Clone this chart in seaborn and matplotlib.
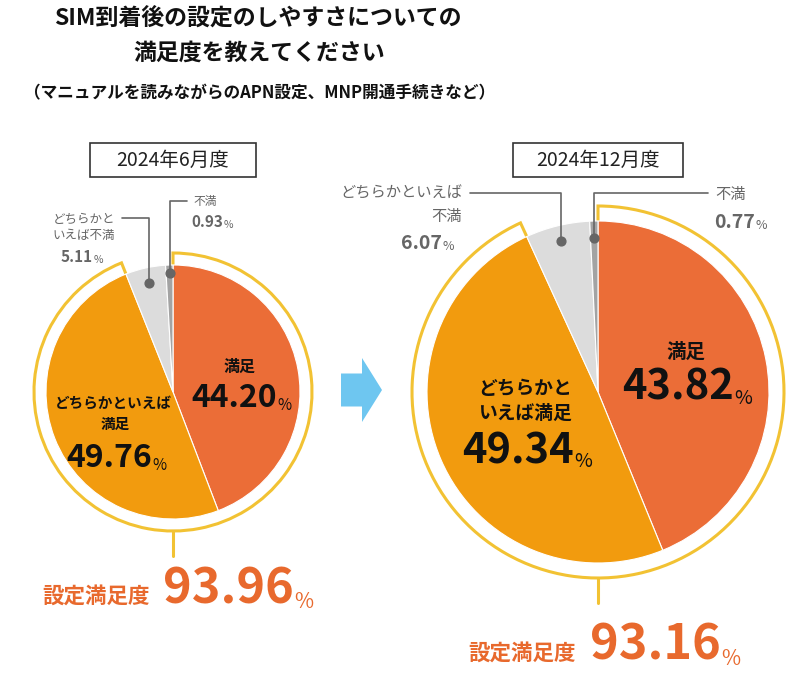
import seaborn as sns
import matplotlib.pyplot as plt
import numpy as np
from matplotlib.patches import Wedge, Rectangle, FancyArrow

# データ
categories = ["満足", "どちらかといえば満足", "どちらかといえば不満", "不満"]
periods = ["2024年6月度", "2024年12月度"]
june_values = [44.20, 49.76, 5.11, 0.93]
dec_values = [43.82, 49.34, 6.07, 0.77]
satisfaction_totals = [93.96, 93.16]

W, H = 800, 681

sns.set_theme(style="white")
plt.rcParams['font.family'] = ['Noto Sans CJK JP', 'DejaVu Sans']

palette = sns.color_palette(["#EB6D37", "#F29B0E", "#DCDCDC", "#A3A3A3"])
YELLOW = "#F2C233"
ORANGE_TXT = "#E8692D"
GRAY_TXT = "#666666"
BLACK = "#111111"

fig = plt.figure(figsize=(8, 6.81), dpi=100)
ax = fig.add_axes([0, 0, 1, 1])


def Y(y):
    # 画像座標 (上から) -> データ座標
    return H - y


def number_pct(x, y, value, size, pct_size, color, ha='left'):
    t = ax.text(x, Y(y), f"{value:.2f}", fontsize=size, fontweight='bold',
                color=color, ha=ha, va='baseline')
    ax.annotate('%', xy=(1, 0), xycoords=t, xytext=(0.3, 0), textcoords='offset points',
                fontsize=pct_size, color=color, ha='left', va='bottom')
    return t


def draw_pie(values, cx, cy, r, gap, dot_factors):
    ax.pie(values, colors=palette, startangle=90, counterclock=False,
           center=(cx, Y(cy)), radius=r,
           wedgeprops=dict(edgecolor='white', linewidth=0.8, zorder=2))
    sat = values[0] + values[1]
    ring = Wedge((cx, Y(cy)), r + gap, 90 - sat * 3.6, 90, fill=False,
                 edgecolor=YELLOW, linewidth=2.2, zorder=1)
    ax.add_patch(ring)
    # 下に伸びる線
    ax.plot([cx, cx], [Y(cy) - r - gap, Y(cy) - r - gap - 25], color=YELLOW, lw=2.2, zorder=1)

    # 不満側のスライスに点
    cum = np.cumsum([0] + list(values))
    pts = []
    for i, f in zip([2, 3], dot_factors):
        mid = 90 - (cum[i] + values[i] / 2) * 3.6
        px = cx + r * f * np.cos(np.radians(mid))
        py = Y(cy) + r * f * np.sin(np.radians(mid))
        ax.scatter([px], [py], s=40, color=GRAY_TXT, zorder=5)
        pts.append((px, py))
    return pts


# タイトル
ax.text(258, Y(18), "SIM到着後の設定のしやすさについての", fontsize=16.5, fontweight='bold',
        color=BLACK, ha='center', va='center')
ax.text(259, Y(53), "満足度を教えてください", fontsize=16.5, fontweight='bold',
        color=BLACK, ha='center', va='center')
ax.text(260, Y(93), "（マニュアルを読みながらのAPN設定、MNP開通手続きなど）", fontsize=12,
        fontweight='bold', color=BLACK, ha='center', va='center')

# 期間ボックス
for (x0, x1), label in zip([(90, 256), (513, 683)], periods):
    ax.add_patch(Rectangle((x0, Y(177)), x1 - x0, 34, fill=False, edgecolor='#333333', lw=1.2))
    ax.text((x0 + x1) / 2, Y(160), label, fontsize=14, color='#222222', ha='center', va='center')

# 左の円グラフ
(lx1, ly1), (lx2, ly2) = draw_pie(june_values, 173, 392, 127, 12, [0.88, 0.94])
ax.plot([lx1, lx1, 122], [ly1, Y(218), Y(218)], color=GRAY_TXT, lw=1.2, zorder=4)
ax.plot([lx2, lx2, 187], [ly2, Y(201), Y(201)], color=GRAY_TXT, lw=1.2, zorder=4)

ax.text(84, Y(219), "どちらかと", fontsize=9, color=GRAY_TXT, ha='center', va='center')
ax.text(84, Y(236), "いえば不満", fontsize=9, color=GRAY_TXT, ha='center', va='center')
number_pct(61, 262, june_values[2], 11, 7.5, GRAY_TXT)
ax.text(193, Y(202), "不満", fontsize=8.5, color=GRAY_TXT, ha='left', va='center')
number_pct(191, 227, june_values[3], 11, 7.5, GRAY_TXT)

ax.text(240, Y(367), "満足", fontsize=11.5, fontweight='bold', color=BLACK, ha='center', va='center')
number_pct(191, 407, june_values[0], 23, 11, BLACK)
ax.text(113, Y(403), "どちらかといえば", fontsize=10.5, fontweight='bold', color=BLACK,
        ha='center', va='center')
ax.text(115, Y(424), "満足", fontsize=10.5, fontweight='bold', color=BLACK, ha='center', va='center')
number_pct(66, 467, june_values[1], 23, 11, BLACK)

ax.text(150, Y(603), "設定満足度", fontsize=15.5, fontweight='bold', color=ORANGE_TXT,
        ha='right', va='baseline')
number_pct(163, 603, satisfaction_totals[0], 35, 15, ORANGE_TXT)

# 矢印
ax.add_patch(FancyArrow(341, Y(390), 41, 0, width=33, head_width=64, head_length=20,
                        length_includes_head=True, color='#6EC6F0', lw=0))

# 右の円グラフ
(rx1, ry1), (rx2, ry2) = draw_pie(dec_values, 598, 392, 171, 15, [0.91, 0.9])
ax.plot([rx1, rx1, 470], [ry1, Y(193), Y(193)], color=GRAY_TXT, lw=1.2, zorder=4)
ax.plot([rx2, rx2, 708], [ry2, Y(193), Y(193)], color=GRAY_TXT, lw=1.2, zorder=4)

ax.text(462, Y(193), "どちらかといえば", fontsize=11, color=GRAY_TXT, ha='right', va='center')
ax.text(462, Y(217), "不満", fontsize=11, color=GRAY_TXT, ha='right', va='center')
number_pct(401, 249, dec_values[2], 14, 9, GRAY_TXT)
ax.text(715, Y(195), "不満", fontsize=11, color=GRAY_TXT, ha='left', va='center')
number_pct(714, 228, dec_values[3], 14, 9, GRAY_TXT)

ax.text(686, Y(352), "満足", fontsize=14, fontweight='bold', color=BLACK, ha='center', va='center')
number_pct(622, 400, dec_values[0], 30, 14, BLACK)
ax.text(525, Y(388), "どちらかと", fontsize=13.5, fontweight='bold', color=BLACK,
        ha='center', va='center')
ax.text(525, Y(413), "いえば満足", fontsize=13.5, fontweight='bold', color=BLACK,
        ha='center', va='center')
number_pct(462, 463, dec_values[1], 30, 14, BLACK)

ax.text(576, Y(660), "設定満足度", fontsize=15.5, fontweight='bold', color=ORANGE_TXT,
        ha='right', va='baseline')
number_pct(590, 660, satisfaction_totals[1], 35, 15, ORANGE_TXT)

ax.set_xlim(0, W)
ax.set_ylim(0, H)
ax.set_aspect('equal')
ax.axis('off')

fig.savefig('out.png', dpi=100)
